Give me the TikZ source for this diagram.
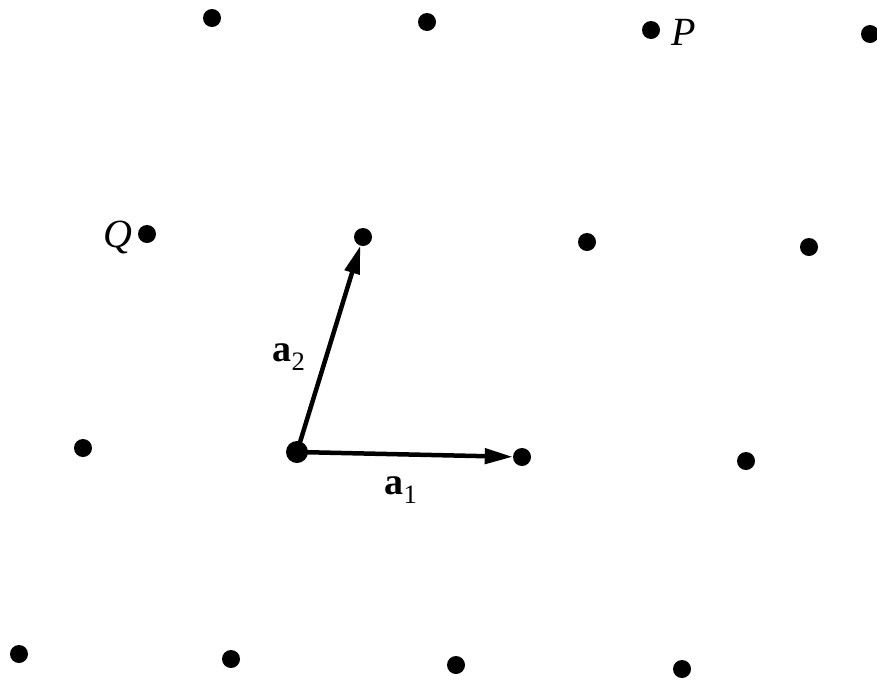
\documentclass[tikz,border=0pt]{standalone}
\usepackage{fontspec}
\setmainfont{Liberation Serif}
\usetikzlibrary{arrows.meta}
\begin{document}
\begin{tikzpicture}[x=1pt,y=-1pt,
  dot/.style={circle,fill=black,inner sep=0pt,minimum size=18pt},
  bigdot/.style={circle,fill=black,inner sep=0pt,minimum size=22pt},
  vec/.style={line width=4.5pt,-{Triangle[length=28pt,width=15pt]},shorten >=0pt},
  lbl/.style={font=\fontsize{40}{46}\selectfont},
  blbl/.style={font=\fontsize{38}{44}\selectfont\bfseries}]
\useasboundingbox (0,0) rectangle (877,681);
% row 1
\node[dot] (d11) at (212,18) {};
\node[dot] (d12) at (427,22) {};
\node[dot] (P) at (651,30) {};
\node[dot] (d14) at (870,34) {};
% row 2
\node[dot] (Q) at (147,234) {};
\node[dot] (a2end) at (363,237) {};
\node[dot] (d23) at (587,242) {};
\node[dot] (d24) at (809,247) {};
% row 3
\node[dot] (d31) at (83,448) {};
\node[bigdot] (O) at (297,452) {};
\node[dot] (a1end) at (522,457) {};
\node[dot] (d34) at (746,461) {};
% row 4
\node[dot] (d41) at (19,654) {};
\node[dot] (d42) at (231,659) {};
\node[dot] (d43) at (456,665) {};
\node[dot] (d44) at (682,669) {};
% labels
\node[lbl,anchor=west] (Plbl) at (668,32) {\textit{P}};
\node[lbl,anchor=east] (Qlbl) at (136,237) {\textit{Q}};
% vectors
\draw[vec] (O.center) -- (a1end);
\draw[vec] (O.center) -- (a2end);
\node[blbl] (a1lbl) at (401,490) {a\textsubscript{\mdseries 1}};
\node[blbl] (a2lbl) at (289,357) {a\textsubscript{\mdseries 2}};
\end{tikzpicture}
\end{document}
